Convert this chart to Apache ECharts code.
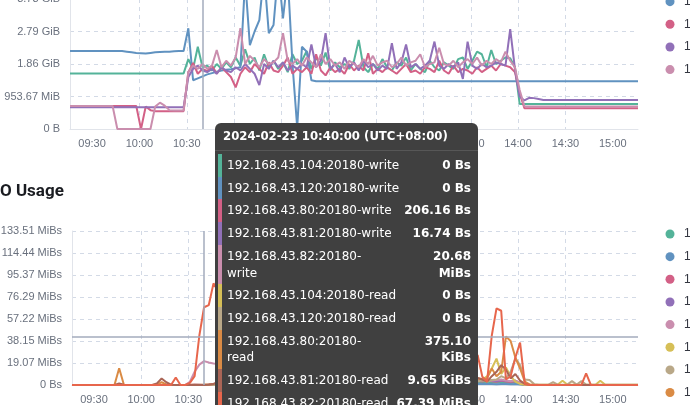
<!DOCTYPE html>
<html><head><meta charset="utf-8">
<script src="https://cdn.jsdelivr.net/npm/echarts@6/dist/echarts.min.js"></script>
<style>html,body{margin:0;padding:0;overflow:hidden;background:#fff}#c{width:690px;height:405px}</style>
</head><body><div id="c"></div>
<script>
// sample times (UTC+08:00 wall clock), 2024-02-23
const times = [
"09:16","09:19","09:22","09:25","09:28","09:31","09:34","09:37","09:40","09:43",
"09:46","09:49","09:52","09:55","09:58","10:01","10:04","10:07","10:10","10:13",
"10:16","10:19","10:22","10:25","10:28","10:31","10:34","10:37","10:40","10:43",
"10:46","10:49","10:52","10:55","10:58","11:01","11:04","11:07","11:10","11:13",
"11:16","11:19","11:22","11:25","11:28","11:31","11:34","11:37","11:40","11:43",
"11:46","11:49","11:52","11:55","11:58","12:01","12:04","12:07","12:10","12:13",
"12:16","12:19","12:22","12:25","12:28","12:31","12:34","12:37","12:40","12:43",
"12:46","12:49","12:52","12:55","12:58","13:01","13:04","13:07","13:10","13:13",
"13:16","13:19","13:22","13:25","13:28","13:31","13:34","13:37","13:40","13:43",
"13:46","13:49","13:52","13:55","13:58","14:01","14:04","14:07","14:10","14:13",
"14:16","14:19","14:22","14:25","14:28","14:31","14:34","14:37","14:40","14:43",
"14:46","14:49","14:52","14:55","14:58","15:01","15:04","15:07","15:10","15:13",
"15:16"];
const tickTimes = ["09:30","10:00","10:30","11:00","11:30","12:00","12:30","13:00","13:30","14:00","14:30","15:00"];
const hoverTime = "10:40";

// ---- upper chart: memory (values in GB = 1e9 bytes) ----
const memNames = ["192.168.43.104:20180","192.168.43.120:20180","192.168.43.80:20180","192.168.43.81:20180","192.168.43.82:20180"];
const mem104 = [
1.71,1.71,1.71,1.71,1.71,1.71,1.71,1.71,1.71,1.71,
1.71,1.71,1.71,1.71,1.71,1.71,1.71,1.71,1.71,1.71,
1.71,1.71,1.71,1.71,1.71,2.15,1.85,2.53,1.9,1.95,
1.8,2.0,1.85,2.05,1.9,2.2,1.95,2.45,2.0,2.2,
1.8,2.3,1.9,2.1,1.85,2.05,1.75,2.3,2.0,2.1,
2.4,1.85,2.2,1.95,2.35,1.8,2.05,1.9,2.0,1.85,
2.1,2.74,1.9,1.75,2.0,1.85,2.15,1.9,1.8,2.05,
1.95,2.2,1.8,2.0,1.85,1.75,2.1,1.9,1.8,2.05,
1.95,1.85,2.15,2.2,1.85,2.1,2.38,2.3,1.9,2.43,
2.0,2.1,2.2,2.18,1.9,0.77,0.77,0.77,0.77,0.77,
0.77,0.77,0.77,0.77,0.77,0.77,0.77,0.77,0.77,0.77,
0.77,0.77,0.77,0.77,0.77,0.77,0.77,0.77,0.77,0.77,
0.77];
const mem120 = [
2.4,2.4,2.4,2.4,2.4,2.4,2.4,2.4,2.4,2.4,
2.4,2.4,2.38,2.36,2.34,2.33,2.32,2.34,2.36,2.37,
2.38,2.38,2.39,2.4,2.4,3.1,1.5,1.56,1.62,1.68,
1.72,1.76,1.8,1.82,1.84,1.87,1.9,4.6,2.58,3.0,
3.35,4.8,2.95,3.2,4.9,3.4,4.7,2.0,0.05,2.53,
2.38,1.5,1.47,1.47,1.47,1.47,1.47,1.47,1.47,1.47,
1.47,1.47,1.47,1.47,1.47,1.47,1.47,1.47,1.47,1.47,
1.47,1.47,1.47,1.47,1.47,1.47,1.47,1.47,1.47,1.47,
1.47,1.47,1.47,1.47,1.47,1.47,1.47,1.47,1.47,1.47,
1.47,1.47,1.47,1.47,1.47,1.47,1.47,1.47,1.47,1.47,
1.47,1.47,1.47,1.47,1.47,1.47,1.47,1.47,1.47,1.47,
1.47,1.47,1.47,1.47,1.47,1.47,1.47,1.47,1.47,1.47,
1.47];
const mem80 = [
0.71,0.71,0.71,0.71,0.71,0.71,0.71,0.71,0.71,0.71,
0.71,0.71,0.71,0.71,0.71,0.0,0.69,0.58,0.55,0.55,
0.55,0.55,0.55,0.55,0.55,1.75,2.03,1.7,1.85,1.78,
1.95,1.7,1.9,1.75,1.6,1.28,1.7,1.9,1.75,2.0,
1.85,1.7,2.05,1.8,1.75,1.95,2.2,1.7,1.85,1.75,
1.9,1.7,2.3,1.8,1.65,1.9,1.75,1.85,1.7,2.0,
1.8,1.95,1.8,2.33,1.7,1.85,1.75,1.9,1.8,1.7,
1.85,2.0,1.75,1.8,1.7,1.9,1.85,1.75,2.1,1.8,
1.7,1.95,1.75,1.85,1.8,1.7,1.9,1.75,1.85,1.95,
1.8,2.0,1.95,1.9,1.75,1.1,0.64,0.64,0.64,0.64,
0.64,0.64,0.64,0.64,0.64,0.64,0.64,0.64,0.64,0.64,
0.64,0.64,0.64,0.64,0.64,0.64,0.64,0.64,0.64,0.64,
0.64];
const mem81 = [
0.67,0.67,0.67,0.67,0.67,0.67,0.67,0.67,0.67,0.67,
0.67,0.67,0.67,0.67,0.67,0.67,0.67,0.67,0.67,0.67,
0.67,0.67,0.67,0.67,0.67,1.6,1.85,1.95,1.8,1.75,
1.85,1.7,1.9,1.8,1.75,1.9,1.8,2.0,1.85,1.7,
1.35,2.0,1.85,2.1,1.9,2.05,1.8,1.95,1.85,2.0,
1.9,2.6,1.9,2.1,2.95,1.85,2.0,1.75,2.2,1.9,
2.05,1.8,2.1,1.9,2.0,1.8,1.95,1.85,2.64,1.85,
2.05,2.6,1.9,2.0,1.85,1.95,2.1,2.69,1.95,1.85,
2.0,1.9,2.05,1.54,2.69,1.95,1.85,2.0,1.9,1.95,
2.05,2.0,1.95,3.07,1.85,1.0,0.88,0.96,0.95,0.92,
0.89,0.89,0.89,0.89,0.89,0.89,0.89,0.89,0.89,0.89,
0.89,0.89,0.89,0.89,0.89,0.89,0.89,0.89,0.89,0.89,
0.89];
const mem82 = [
0.71,0.71,0.71,0.71,0.71,0.71,0.71,0.71,0.71,0.71,
0,0,0,0,0,0,0,0,0.69,0.81,
0.72,0.58,0.57,0.57,0.57,1.75,1.95,1.85,2.0,1.85,
1.95,2.43,1.9,2.1,1.95,2.2,3.1,2.0,2.25,2.1,
1.9,2.15,2.0,2.05,2.2,2.95,2.1,2.0,2.15,1.95,
2.2,2.05,1.9,2.3,2.0,2.15,1.95,2.05,1.85,2.1,
2.0,1.9,2.15,2.0,2.25,1.95,2.05,2.1,1.9,2.0,
2.2,1.95,2.05,2.1,2.3,1.9,2.0,2.05,2.5,2.0,
1.95,2.1,1.9,2.05,2.15,2.0,2.2,1.95,2.1,2.0,
2.15,2.05,2.38,2.1,1.9,1.2,0.7,0.69,0.69,0.69,
0.69,0.69,0.69,0.69,0.69,0.69,0.69,0.69,0.69,0.69,
0.69,0.69,0.69,0.69,0.69,0.69,0.69,0.69,0.69,0.69,
0.69];

// ---- lower chart: IO usage (values in MB = 1e6 bytes per second) ----
const ioNames = [
"192.168.43.104:20180-write","192.168.43.120:20180-write","192.168.43.80:20180-write","192.168.43.81:20180-write","192.168.43.82:20180-write",
"192.168.43.104:20180-read","192.168.43.120:20180-read","192.168.43.80:20180-read","192.168.43.81:20180-read","192.168.43.82:20180-read"];
const w104 = [
0,0,0,0,0,0,0,0,0,0, 0,0,0,0,0,0,0,0,0,0, 0,0,0,0,0,0,0,0,0,0,
0,0.5,1.2,2.0,1.5,2.5,1.8,3.0,2.2,1.5,
2.8,2.0,1.6,3.2,2.4,1.9,2.6,3.5,2.1,1.8,
2.5,3.0,2.2,1.7,2.9,2.3,1.9,2.6,3.1,2.0,
2.4,1.8,2.7,3.3,2.2,1.9,2.5,2.8,2.0,2.3,
3.0,2.1,1.7,2.6,2.9,2.2,1.8,2.4,3.1,2.0,
2.5,2.2,1.9,2.7,2.4,2.0,2.6,2.2,3.0,2.4,
2.0,2.8,2.2,1.8,2.5,1.2,0.3,0,0,0,
0,0,0,0,0,0,0,0,0,0, 0,0,0,0,0,0,0,0,0,0, 0];
const w120 = [
0,0,0,0,0,0,0,0,0,0, 0,0,0,0,0,0,0,0,0,0, 0,0,0,0,0,0,0,0,0,0,
0,0,0.3,0.8,0.5,1.0,0.6,1.2,0.8,0.5,
1.0,0.7,0.5,1.1,0.9,0.6,0.8,1.3,0.7,0.6,
0.9,1.1,0.7,0.5,1.0,0.8,0.6,0.9,1.2,0.7,
0.8,0.6,1.0,1.2,0.7,0.6,0.9,1.0,0.7,0.8,
1.1,0.7,0.6,0.9,1.0,0.8,0.6,0.8,1.1,0.7,
0.9,0.8,0.6,1.0,0.9,0.7,0.9,0.8,1.1,0.9,
0.7,1.0,0.8,0.6,0.9,0.4,0.1,0,0,0,
0,0,0,0,0,0,0,0,0,0, 0,0,0,0,0,0,0,0,0,0, 0];
const w80 = [
0,0,0,0,0,0,0,0,0,0, 0,0,0,0,0,0,0,0,0,0,
0,0,0,0,0,0.1,0.2,0.1,0.00020616,0.3,
0.8,1.5,2.5,3.0,2.2,3.5,2.8,4.0,3.2,2.5,
3.8,3.0,2.6,4.2,3.4,2.9,3.6,4.5,3.1,2.8,
3.5,4.0,3.2,2.7,3.9,3.3,2.9,3.6,4.1,3.0,
3.4,2.8,3.7,4.3,3.2,2.9,3.5,3.8,3.0,3.3,
4.0,3.1,2.7,3.6,3.9,3.2,2.8,3.4,4.1,3.0,
3.5,3.2,2.9,3.7,3.4,3.0,3.6,3.2,4.0,3.4,
3.0,3.8,3.2,2.8,3.5,1.5,0.4,0.1,0,0,
0,0,0,0,0,0,0,0,0,0, 0,0,0,0,0,0,0,0,0,0, 0];
const w81 = [
0,0,0,0,0,0,0,0,0,0, 0,0,0,0,0,0,0,0,0,0,
0,0,0,0,0,0.1,0.3,0.2,0.00001674,0.5,
1.0,2.0,3.0,3.5,2.8,4.0,3.2,4.5,3.6,3.0,
4.2,3.5,3.0,4.6,3.9,3.3,4.0,5.0,3.6,3.2,
4.0,4.5,3.6,3.1,4.4,3.8,3.3,4.1,4.6,3.5,
3.9,3.2,4.2,4.8,3.6,3.3,4.0,4.3,3.5,3.8,
4.5,3.6,3.1,4.1,4.4,3.7,3.2,3.9,4.6,3.5,
4.0,3.6,3.3,4.2,3.9,3.5,4.1,3.8,4.5,4.0,
3.6,4.3,3.8,3.3,4.0,2.0,0.5,0.1,0,0,
0,0,0,0,0,0,0,0,0,0, 0,0,0,0,0,0,0,0,0,0, 0];
const w82 = [
0,0,0,0,0,0,0,0,0,0, 0,0,0,0,0,0,0,0,0,0,
0,0,0,0,0,3,12,18.5,21.684552,20.5,
19.5,19.0,18.5,18.0,18.5,17.5,16.0,14.0,12.0,10.5,
9.0,8.5,8.0,7.5,8.0,7.0,6.5,7.5,6.0,6.5,
7.0,6.0,5.5,6.5,7.0,6.0,5.5,6.0,6.5,5.5,
6.0,5.5,6.5,7.0,5.5,5.0,6.0,6.5,5.5,6.0,
6.5,5.5,5.0,6.0,6.5,5.5,5.0,5.5,6.0,5.0,
5.5,5.0,4.5,5.5,5.0,4.5,5.0,4.5,5.5,4.0,
4.5,5.0,4.0,3.5,4.0,2.0,0.5,0.1,0,0,
0,0,0,0,0,0,0,0,0,0, 0,0,0,0,0,0,0,0,0,0, 0];
const r104 = [
0,0,0,0,0,0,0,0,0,0, 0,0,0,0,0,0,0,0,0,0, 0,0,0,0,0,0,0,0,0,0,
0,0.5,1.0,2.0,1.5,3.0,2.0,2.5,3.5,2.0,
3.0,2.5,4.0,3.0,2.0,3.5,4.5,3.0,2.5,3.5,
4.0,3.0,2.5,3.5,4.5,3.0,2.0,3.5,4.0,3.0,
2.5,3.5,4.5,3.0,2.5,3.5,4.0,3.0,2.0,3.5,
4.5,3.0,2.5,3.5,4.0,3.0,2.5,3.5,4.5,3.0,
3.5,4.0,3.0,2.5,3.5,4.5,6.0,5.0,8.0,15.0,
24.0,10.0,16.0,8.0,3.0,1.0,0.3,0.2,0.2,0.2,
0.2,0.2,0.2,0.5,3.8,0.5,0.2,0.2,0.2,0.2,
0.2,0.2,3.8,0.5,0.2,0.2,0.2,0.2,0.2,0.2,
0.2];
const r120 = [
0,0,0,0,0,0,0,0,0,0, 0,0,0,0,0,0,0,0,0,0, 0,0,0,0,0,0,0,0,0,0,
0,0.3,0.8,1.5,1.0,2.0,1.5,1.8,2.5,1.5,
2.0,1.5,3.0,2.2,1.5,2.5,3.2,2.0,1.8,2.5,
3.0,2.2,1.8,2.6,3.4,2.2,1.5,2.5,3.0,2.2,
1.8,2.6,3.2,2.2,1.8,2.5,3.0,2.2,1.5,2.6,
3.2,2.2,1.8,2.5,3.0,2.2,1.8,2.5,3.2,2.2,
2.5,3.0,2.2,1.8,2.5,3.2,3.5,4.0,3.0,4.5,
5.0,8.0,6.0,12.0,24.0,18.0,5.0,4.5,0.8,0.3,
0.2,0.3,2.5,0.3,0.2,0.3,3.5,0.3,3.5,0.3,
0.2,0.2,0.2,0.2,0.2,0.2,0.2,0.2,0.2,0.2,
0.2];
const r80 = [
0,0,0,0,0,0,0,0,0,0,
15.2,0.3,0,0,0,0,0,0,0.5,2.5,
0.5,0,0,0,0,0.2,0.3,0.3,0.3841024,0.5,
1.0,2.0,3.5,5.0,4.0,6.0,5.0,7.0,5.5,4.5,
6.5,5.0,4.5,7.0,5.5,5.0,6.0,7.5,5.0,4.5,
6.0,7.0,5.5,4.5,6.5,5.5,5.0,6.0,7.0,5.0,
5.5,4.5,6.0,7.0,5.0,4.5,5.5,6.5,5.0,5.5,
7.0,5.5,4.5,6.0,6.5,5.0,4.5,5.5,7.0,5.0,
6.0,5.0,4.5,6.0,5.5,5.0,6.0,5.5,6.0,15.0,
8.0,12.0,44.0,40.0,25.0,15.0,3.0,0.5,0.1,0.1,
0.1,0.1,0.1,0.1,0.1,0.1,0.1,0.1,0.1,0.1,
0.1,0.1,0.1,0.1,0.1,0.1,0.1,0.1,0.1,0.1,
0.1];
const r81 = [
0,0,0,0,0,0,0,0,0,0,
1.5,0.3,0,0,0,0,0,0,1.5,5.9,
2.5,0.3,0,0,0,0.1,0.1,0.1,0.0098816,0.2,
1.0,2.5,4.0,5.5,4.5,6.5,5.5,7.5,6.0,5.0,
7.0,5.5,5.0,7.5,6.0,5.5,6.5,8.0,5.5,5.0,
6.5,7.5,6.0,5.0,7.0,6.0,5.5,6.5,7.5,5.5,
6.0,5.0,6.5,7.5,5.5,5.0,6.0,7.0,5.5,6.0,
7.5,6.0,5.0,6.5,7.0,5.5,5.0,6.0,7.5,5.5,
6.5,5.5,5.0,6.5,6.0,5.5,6.5,5.0,3.0,8.0,
12.0,18.0,14.0,6.0,10.0,4.0,1.0,0.1,0.1,0.1,
0.1,0.1,0.1,0.1,0.1,0.1,0.1,0.1,0.1,0.1,
0.1,0.1,0.1,0.1,0.1,0.1,0.1,0.1,0.1,0.1,
0.1];
const r82 = [
0,0,0,0,0,0,0,0,0,0,
0,0,0,0,0,0,0,0,0,0,
0,0,6.8,0,0,2.0,8.0,45.0,70.663537,72.7,
92.4,85.0,80.0,88.0,75.0,82.0,70.0,78.0,65.0,72.0,
68.0,60.0,66.0,58.0,62.0,55.0,60.0,52.0,56.0,50.0,
54.0,48.0,52.0,45.0,50.0,46.0,42.0,48.0,40.0,44.0,
38.0,42.0,36.0,40.0,34.0,38.0,32.0,36.0,30.0,34.0,
28.0,32.0,30.0,26.0,30.0,28.0,24.0,28.0,26.0,22.0,
26.0,24.0,20.0,25.0,22.0,18.0,27.3,7.5,3.0,45.0,
69.7,67.5,5.0,8.0,25.0,38.6,1.0,0.1,0.1,0.1,
0.1,0.1,0.1,0.1,0.1,0.1,0.1,0.1,0.1,10.6,
0.1,0.1,0.1,0.1,0.1,0.1,0.1,0.1,0.1,0.1,
0.1];

const memValues = [mem104, mem120, mem80, mem81, mem82];
const ioValues = [w104, w120, w80, w81, w82, r104, r120, r80, r81, r82];
const palette = ['#54B399','#6092C0','#D36086','#9170B8','#CA8EAE','#D6BF57','#B9A888','#DA8B45','#AA6556','#E7664C'];

function ts(s){ const p = s.split(':'); return Date.UTC(2024, 1, 23, +p[0], +p[1]); }
function pad(n){ return (n < 10 ? '0' : '') + n; }
function fmtBytes(v, units){
  if (!v) return '0 ' + units[0];
  let i = Math.floor(Math.log(v) / Math.log(1024));
  i = Math.max(0, Math.min(i, units.length - 1));
  return (v / Math.pow(1024, i)).toFixed(2) + ' ' + units[i];
}
const memUnits = ['B','KiB','MiB','GiB'];
const ioUnits = ['Bs','KiBs','MiBs','GiBs'];

const axisFont = 'Liberation Sans, Arial, Helvetica, sans-serif';
const gridLine = {color:'#d3dae6', width:1, type:[4,4]};
const axisLineStyle = {color:'#e1e4ea', width:1};
const T0 = ts(times[0]), T1 = ts(times[times.length-1]);
const tickValues = tickTimes.map(ts);

function xAxisCfg(idx){
  return {
    type:'value', gridIndex:idx, min:T0, max:T1, scale:true,
    axisLine:{show:true, lineStyle:axisLineStyle},
    axisTick:{show:false, customValues:tickValues},
    axisLabel:{color:'#69707d', fontSize:11, fontFamily:axisFont, margin:9,
      customValues:tickValues,
      formatter:function(v){ const d = new Date(v); return pad(d.getUTCHours()) + ':' + pad(d.getUTCMinutes()); }},
    splitLine:{show:true, showMinLine:false, showMaxLine:false, lineStyle:gridLine},
    axisPointer:{snap:true, label:{show:false}, lineStyle:{color:'#a3abbd', width:1.5}}
  };
}
function yAxisCfg(idx, max, interval, units){
  return {
    type:'value', gridIndex:idx, min:0, max:max, interval:interval,
    axisLine:{show:true, lineStyle:axisLineStyle},
    axisTick:{show:false},
    axisLabel:{color:'#69707d', fontSize:11, fontFamily:axisFont, margin:10,
      formatter:function(v){ return fmtBytes(v, units); }},
    splitLine:{show:true, lineStyle:gridLine},
    axisPointer:{label:{show:false}}
  };
}

const series = [];
memValues.forEach(function(vals, i){
  series.push({
    type:'line', name:memNames[i], xAxisIndex:0, yAxisIndex:0,
    data: times.map(function(t, k){ return [ts(t), vals[k] * 1e9]; }),
    symbol:'none', color:palette[i], lineStyle:{width:2, color:palette[i]},
    emphasis:{disabled:true}
  });
});
ioValues.forEach(function(vals, i){
  series.push({
    type:'line', name:ioNames[i], xAxisIndex:1, yAxisIndex:1,
    data: times.map(function(t, k){ return [ts(t), vals[k] * 1e6]; }),
    symbol:'none', color:palette[i], lineStyle:{width:2, color:palette[i]},
    emphasis:{disabled:true}
  });
});

function tooltipHtml(params){
  const list = params.filter(function(p){ return p.seriesIndex >= memValues.length; });
  if (!list.length) return '';
  const d = new Date(list[0].value[0]);
  const title = d.getUTCFullYear() + '-' + pad(d.getUTCMonth()+1) + '-' + pad(d.getUTCDate()) + ' ' +
    pad(d.getUTCHours()) + ':' + pad(d.getUTCMinutes()) + ':' + pad(d.getUTCSeconds()) + ' (UTC+08:00)';
  let h = '<div style="font-family:\'DejaVu Sans\',sans-serif;color:#fff;white-space:normal;">';
  h += '<div style="font-weight:bold;font-size:11.7px;line-height:17px;padding:5px 8px 5px 8px;border-bottom:1px solid #575757;">' + title + '</div>';
  h += '<div style="padding:3px 0 0 3px;">';
  list.forEach(function(p){
    h += '<div style="display:flex;align-items:flex-start;border-left:4px solid ' + p.color + ';padding:3px 7px 3px 5px;font-size:12px;line-height:16.7px;">' +
      '<span style="white-space:normal;">' + p.seriesName + '</span>' +
      '<span style="margin-left:auto;padding-left:7px;font-weight:bold;text-align:right;white-space:normal;">' + fmtBytes(p.value[1], ioUnits) + '</span></div>';
  });
  h += '</div></div>';
  return h;
}

const legendBase = {
  orient:'vertical', left:665.5, padding:0, icon:'circle', itemWidth:18, itemHeight:9, itemGap:8.65,
  textStyle:{fontSize:12, lineHeight:14, color:'#343741', fontFamily:axisFont}
};

const option = {
  animation:false,
  title:{text:'IO Usage', left:-5, top:183, padding:0,
    textStyle:{fontSize:17, fontWeight:'bold', color:'#1a1c21', fontFamily:'Roboto, sans-serif'}},
  legend:[
    Object.assign({}, legendBase, {top:-28, data:memNames}),
    Object.assign({}, legendBase, {top:227, data:ioNames})
  ],
  grid:[
    {left:70, right:52, top:-1, height:130, outerBoundsMode:'none', containLabel:false},
    {left:72, right:52, top:231, height:154, outerBoundsMode:'none', containLabel:false}
  ],
  axisPointer:{link:[{xAxisIndex:'all'}]},
  xAxis:[xAxisCfg(0), xAxisCfg(1)],
  yAxis:[yAxisCfg(0, 4e9, 1e9, memUnits), yAxisCfg(1, 140e6, 20e6, ioUnits)],
  tooltip:{
    trigger:'axis', triggerOn:'none', alwaysShowContent:true, transitionDuration:0, confine:false,
    padding:0, borderWidth:0, backgroundColor:'#404040',
    extraCssText:'box-shadow:none;border-radius:6px;width:263px;box-sizing:border-box;',
    axisPointer:{type:'cross', snap:true, label:{show:false},
      crossStyle:{color:'#a3abbd', width:1.5, type:'solid'},
      lineStyle:{color:'#a3abbd', width:1.5, type:'solid'}},
    position:function(){ return [215, 123]; },
    formatter:tooltipHtml
  },
  series:series
};

const chart = echarts.init(document.getElementById('c'), null, {renderer:'canvas'});
chart.setOption(option);
// hover position: the axis pointer snaps to the 10:40 sample
const hoverPx = chart.convertToPixel({xAxisIndex:1}, ts(hoverTime));
chart.dispatchAction({type:'showTip', x:hoverPx + 1, y:337});
</script>
</body></html>
